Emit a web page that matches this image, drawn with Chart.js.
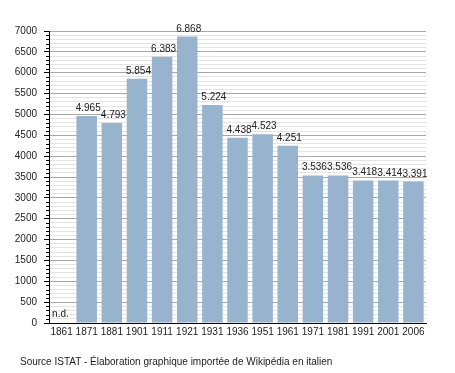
<!DOCTYPE html>
<html>
<head>
<meta charset="utf-8">
<script src="https://cdn.jsdelivr.net/npm/chart.js@4.4.0/dist/chart.umd.min.js"></script>
<style>
  html, body { margin: 0; padding: 0; background: #fff; }
  #wrap { position: relative; width: 455px; height: 373px; }
  #c { position: absolute; left: 0; top: 0; }
  #caption { position: absolute; left: 20px; top: 356px; font: 10px "Liberation Sans", Arial, sans-serif; color: #222; white-space: nowrap; line-height: 12px; }
</style>
</head>
<body>
<div id="wrap">
  <canvas id="c" width="455" height="373"></canvas>
  <div id="caption">Source ISTAT - Élaboration graphique importée de Wikipédia en italien</div>
</div>
<script>
const categories = ['1861','1871','1881','1901','1911','1921','1931','1936','1951','1961','1971','1981','1991','2001','2006'];
const population = [null,4965,4793,5854,6383,6868,5224,4438,4523,4251,3536,3536,3418,3414,3391];
const yMajorTicks = [0,500,1000,1500,2000,2500,3000,3500,4000,4500,5000,5500,6000,6500,7000];
const missingLabel = 'n.d.';

const FONT = '"Liberation Sans", Arial, sans-serif';

function fmt(v) {
  const th = Math.floor(v / 1000);
  const rest = String(v % 1000).padStart(3, '0');
  return th + '.' + rest;
}

const labelPlugin = {
  id: 'labels',
  afterDatasetsDraw(chart) {
    const ctx = chart.ctx;
    const meta = chart.getDatasetMeta(0);
    const xs = chart.scales.x, ys = chart.scales.y;
    ctx.save();
    ctx.font = '10px ' + FONT;
    ctx.fillStyle = '#222';
    ctx.textAlign = 'center';
    ctx.textBaseline = 'alphabetic';
    population.forEach((v, i) => {
      if (v === null) {
        const x = xs.getPixelForValue(i);
        ctx.textAlign = 'left';
        ctx.fillText(missingLabel, x - 9.5, ys.getPixelForValue(0) - 6);
        ctx.textAlign = 'center';
      } else {
        const el = meta.data[i];
        ctx.fillText(fmt(v), el.x + 1.5, el.y - 5);
      }
    });
    ctx.restore();
  },
  afterDraw(chart) {
    // minor ticks on the y axis
    const ctx = chart.ctx;
    const ys = chart.scales.y;
    const left = chart.chartArea.left;
    ctx.save();
    ctx.strokeStyle = '#000';
    ctx.lineWidth = 1;
    ys.ticks.forEach(t => {
      if (t.value % 500 !== 0) {
        const y = Math.round(ys.getPixelForValue(t.value)) + 0.5;
        ctx.beginPath();
        ctx.moveTo(left - 3, y);
        ctx.lineTo(left, y);
        ctx.stroke();
      }
    });
    ctx.restore();
  }
};

new Chart(document.getElementById('c'), {
  type: 'bar',
  data: {
    labels: categories,
    datasets: [{
      data: population,
      backgroundColor: '#98b3cd',
      borderWidth: 0,
      categoryPercentage: 1,
      barPercentage: 0.815
    }]
  },
  options: {
    responsive: false,
    animation: false,
    layout: { padding: { top: 31, right: 29, bottom: 30, left: 0 } },
    plugins: { legend: { display: false }, tooltip: { enabled: false } },
    scales: {
      x: {
        grid: { display: false, drawTicks: false },
        border: { color: '#000', width: 1 },
        ticks: { color: '#222', font: { family: FONT, size: 10 }, padding: 3, maxRotation: 0, autoSkip: false },
        afterFit(s) { s.height = 20; }
      },
      y: {
        min: 0,
        max: 7000,
        border: { color: '#000', width: 1 },
        grid: {
          color: c => (c.tick && c.tick.value % 500 === 0) ? '#a8a8a8' : '#e4e4e4',
          tickColor: c => (c.tick && c.tick.value % 500 === 0) ? '#000' : 'rgba(0,0,0,0)',
          tickLength: 5,
          lineWidth: 1
        },
        ticks: {
          stepSize: 100,
          autoSkip: false,
          padding: 7,
          color: '#222',
          font: { family: FONT, size: 10 },
          callback: v => yMajorTicks.includes(v) ? String(v) : ''
        },
        afterFit(s) { s.width = 49; }
      }
    }
  },
  plugins: [labelPlugin]
});
</script>
</body>
</html>
